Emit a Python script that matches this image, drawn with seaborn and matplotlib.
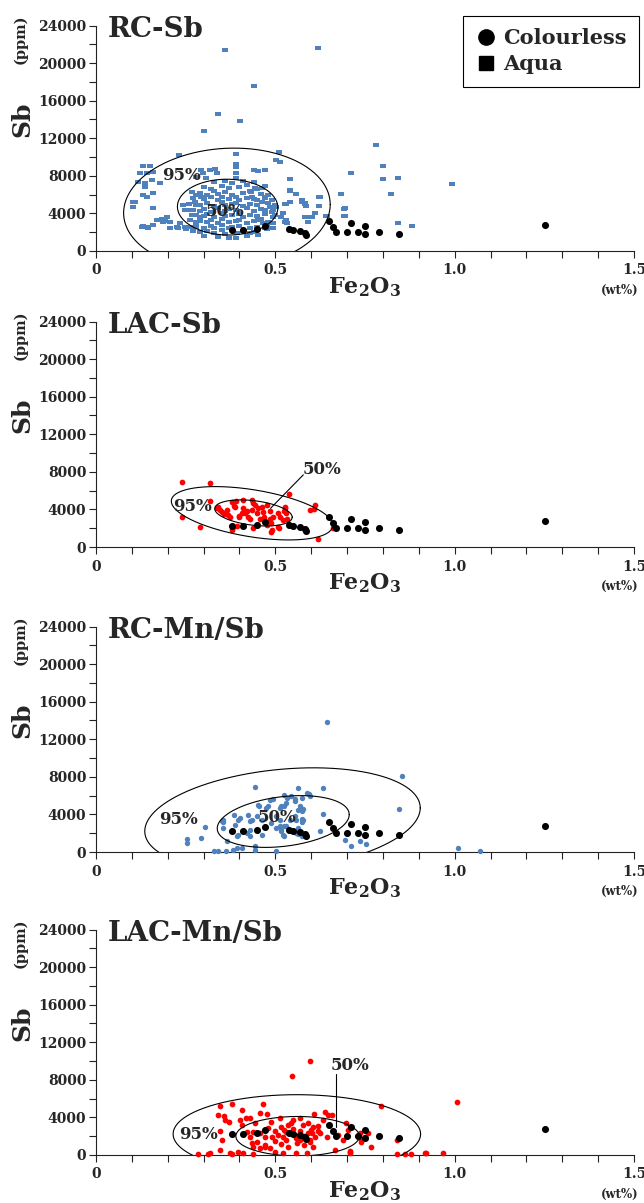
import numpy as np
import matplotlib
matplotlib.use("Agg")
import matplotlib.pyplot as plt
from matplotlib.path import Path
from matplotlib.lines import Line2D
from matplotlib.ticker import MultipleLocator, FixedLocator, FuncFormatter
import seaborn as sns

# ---------------------------------------------------------------- data
# Colourless glass (same reference set shown on every panel): Fe2O3 wt%, Sb ppm
colourless_fe = [0.380, 0.409, 0.450, 0.471, 0.538, 0.550, 0.568, 0.582, 0.585, 0.649,
                 0.661, 0.670, 0.700, 0.712, 0.731, 0.751, 0.751, 0.789, 0.845, 1.253]
colourless_sb = [2270, 2200, 2350, 2650, 2380, 2270, 2100, 1890, 1750, 3200,
                 2550, 1990, 2000, 2950, 2020, 2700, 1850, 2020, 1850, 2800]

# RC-Sb aqua glass
rc_sb_fe = [0.361, 0.619, 0.440, 0.341, 0.401, 0.301, 0.231, 0.390, 0.390, 0.390,
            0.511, 0.501, 0.513, 0.130, 0.150, 0.124, 0.141, 0.160, 0.118, 0.136,
            0.155, 0.178, 0.160, 0.294, 0.299, 0.318, 0.336, 0.331, 0.280, 0.308,
            0.130, 0.141, 0.109, 0.104, 0.160, 0.440, 0.452, 0.471, 0.390, 0.390,
            0.540, 0.443, 0.462, 0.540, 0.559, 0.682, 0.432, 0.436, 0.448, 0.471,
            0.462, 0.540, 0.527, 0.573, 0.582, 0.585, 0.622, 0.622, 0.485, 0.494,
            0.503, 0.522, 0.582, 0.594, 0.694, 0.694, 0.531, 0.533, 0.643, 0.494,
            0.494, 0.494, 0.452, 0.466, 0.476, 0.476, 0.429, 0.452, 0.392, 0.390,
            0.781, 0.711, 0.801, 0.801, 0.841, 0.822, 0.691, 0.691, 0.841, 0.880,
            0.992, 0.641, 0.267, 0.280, 0.294, 0.276, 0.290, 0.243, 0.248, 0.262,
            0.267, 0.262, 0.280, 0.290, 0.132, 0.146, 0.160, 0.169, 0.183, 0.192,
            0.206, 0.197, 0.234, 0.248, 0.262, 0.280, 0.229, 0.250, 0.270, 0.127,
            0.146, 0.174, 0.187, 0.206, 0.225, 0.160, 0.136, 0.104, 0.517, 0.528,
            0.531, 0.540, 0.573, 0.582, 0.601, 0.590, 0.610, 0.624]
rc_sb_sb = [21440, 21620, 17550, 14540, 13800, 12740, 10260, 10370, 9300, 8950,
            10540, 9660, 9480, 9020, 9020, 8250, 8250, 8420, 7360, 7190,
            7540, 7250, 6190, 8670, 8250, 8600, 8250, 8780, 7890, 7720,
            5940, 5760, 5230, 4700, 4530, 8670, 8490, 8600, 8250, 7820,
            7610, 6720, 6720, 6370, 6050, 6050, 6300, 5760, 5410, 5590,
            5230, 5230, 4990, 5230, 5130, 4780, 5700, 4780, 4640, 4350,
            4700, 4000, 3640, 3580, 4530, 3720, 3290, 2940, 3720, 3640,
            2940, 2410, 3290, 2940, 2650, 2300, 1880, 1700, 1940, 1350,
            11250, 8250, 9020, 7640, 7820, 6020, 4460, 3750, 3000, 2690,
            7150, 3750, 6300, 5940, 5760, 5230, 4880, 4880, 4350, 4350,
            3820, 3290, 3110, 3640, 2650, 2580, 2760, 3290, 3360, 3220,
            3110, 3640, 2940, 2580, 2580, 2940, 2400, 2300, 2100, 2580,
            2470, 3290, 3110, 2470, 2580, 6120, 6830, 5200, 3640, 3110,
            5050, 6480, 5410, 5050, 3640, 3100, 4000, 5760]

# RC-Sb aqua glass, dense central group
rc_sb_core_fe = [0.33, 0.36, 0.38, 0.41, 0.44,
                 0.30, 0.32, 0.35, 0.37, 0.40, 0.42, 0.45, 0.47,
                 0.29, 0.31, 0.33, 0.34, 0.36, 0.38, 0.41, 0.43, 0.46, 0.48,
                 0.27, 0.30, 0.32, 0.34, 0.35, 0.37, 0.39, 0.40, 0.42, 0.44, 0.47, 0.49,
                 0.26, 0.28, 0.31, 0.33, 0.35, 0.36, 0.38, 0.39, 0.41, 0.43, 0.45, 0.48, 0.50,
                 0.27, 0.29, 0.30, 0.32, 0.34, 0.36, 0.37, 0.39, 0.40, 0.42, 0.44, 0.46, 0.47, 0.49,
                 0.28, 0.30, 0.31, 0.33, 0.35, 0.36, 0.38, 0.40, 0.41, 0.43, 0.45, 0.47, 0.50,
                 0.29, 0.31, 0.32, 0.34, 0.35, 0.37, 0.39, 0.40, 0.42, 0.44, 0.46, 0.48,
                 0.28, 0.30, 0.32, 0.33, 0.35, 0.37, 0.38, 0.40, 0.43, 0.45, 0.47,
                 0.29, 0.31, 0.33, 0.35, 0.36, 0.41, 0.44,
                 0.30, 0.34, 0.37, 0.42]
rc_sb_core_sb = [7300, 7500, 7200, 7400, 7300,
                 6800, 6600, 6900, 6700, 6800, 7000, 6600, 6900,
                 6200, 6000, 6400, 6100, 6300, 6000, 6200, 6400, 6100, 6000,
                 5600, 5500, 5800, 5400, 5700, 5500, 5800, 5400, 5600, 5500, 5700, 5400,
                 5000, 4900, 5100, 4800, 5200, 4900, 5000, 5100, 4800, 5000, 4900, 5100, 4900,
                 4400, 4300, 4500, 4200, 4600, 4300, 4500, 4400, 4200, 4600, 4300, 4500, 4400, 4200,
                 3800, 3700, 3900, 3600, 4000, 3700, 3800, 3900, 3600, 3800, 3700, 3900, 3800,
                 3200, 3100, 3300, 3000, 3400, 3100, 3200, 3300, 3000, 3200, 3400, 3100,
                 2600, 2500, 2700, 2400, 2800, 2500, 2600, 2700, 2500, 2600, 2400,
                 2000, 2100, 1900, 2200, 1800, 2100, 2000,
                 1600, 1500, 1400, 1600]

# LAC-Sb
lac_sb_fe = [0.239, 0.319, 0.319, 0.239, 0.290, 0.341, 0.345, 0.350, 0.364, 0.369,
             0.373, 0.380, 0.392, 0.390, 0.384, 0.409, 0.415, 0.420, 0.424, 0.429,
             0.406, 0.399, 0.436, 0.438, 0.443, 0.448, 0.438, 0.462, 0.466, 0.469,
             0.457, 0.471, 0.485, 0.489, 0.492, 0.476, 0.508, 0.513, 0.520, 0.524,
             0.528, 0.510, 0.538, 0.596, 0.607, 0.610, 0.619, 0.661, 0.336, 0.378,
             0.387, 0.410, 0.434, 0.452, 0.476, 0.485, 0.494, 0.526, 0.531, 0.533,
             0.382, 0.489, 0.508, 0.356, 0.398]
lac_sb_sb = [6970, 6790, 4940, 3170, 2170, 4230, 3950, 3770, 3950, 3410,
             3170, 1810, 2240, 4910, 4370, 4130, 3590, 3870, 3230, 2950,
             3660, 3170, 5010, 4730, 4480, 3660, 1990, 4300, 3770, 3170,
             2950, 2700, 2950, 2530, 1810, 2350, 3590, 3170, 2880, 3870,
             4130, 1990, 5620, 3950, 4050, 4480, 820, 1990, 4190, 4830,
             4300, 5010, 3950, 4190, 4480, 3870, 3170, 4300, 3590, 2950,
             2170, 1630, 2170, 3550, 3350]

# RC-Mn/Sb
rc_mnsb_fe = [0.643, 0.854, 0.844, 0.443, 0.564, 0.633, 0.593, 0.525, 0.533, 0.554,
              0.554, 0.494, 0.485, 0.517, 0.513, 0.524, 0.454, 0.475, 0.568, 0.573,
              0.576, 0.633, 0.424, 0.434, 0.384, 0.396, 0.355, 0.355, 0.448, 0.462,
              0.503, 0.513, 0.554, 0.559, 0.573, 0.573, 0.513, 0.524, 0.517, 0.524,
              0.462, 0.392, 0.410, 0.429, 0.624, 0.564, 0.304, 0.294, 0.253, 0.253,
              0.364, 0.330, 0.341, 0.362, 0.383, 0.392, 0.406, 0.443, 0.443, 0.503,
              0.694, 0.712, 0.735, 0.754, 1.010, 1.070,
              0.545, 0.531, 0.573, 0.587, 0.596, 0.452, 0.480, 0.564, 0.578, 0.401,
              0.429, 0.350, 0.355, 0.387, 0.396, 0.420, 0.429, 0.489, 0.503, 0.517,
              0.531, 0.540, 0.564, 0.559, 0.573, 0.522]
rc_mnsb_sb = [13870, 8070, 4620, 6900, 6760, 6830, 6220, 6110, 5760, 5660,
              5400, 5660, 5510, 4870, 4700, 4940, 4940, 4700, 4870, 4410,
              4590, 4050, 3980, 3450, 3980, 3450, 3450, 3160, 3800, 3450,
              3800, 3450, 3800, 3450, 3520, 3160, 2730, 2730, 2200, 1740,
              1850, 1670, 2200, 2310, 2270, 1950, 2670, 1490, 1420, 960,
              1130, 140, 140, 140, 250, 430, 430, 670, 250, 140,
              1240, 670, 1210, 890, 450, 80,
              5930, 5230, 5760, 6290, 6010, 5050, 4870, 4510, 3450, 3630,
              3270, 3270, 2560, 2910, 1850, 2030, 1670, 3100, 2560, 2380,
              2730, 3450, 2560, 2030, 1670, 1850]

# LAC-Mn/Sb
lac_mnsb_fe = [0.596, 0.547, 1.006, 0.796, 0.347, 0.378, 0.466, 0.357, 0.370, 0.408,
               0.417, 0.429, 0.408, 0.345, 0.457, 0.489, 0.513, 0.438, 0.457, 0.471,
               0.435, 0.438, 0.457, 0.471, 0.517, 0.524, 0.536, 0.550, 0.568, 0.577,
               0.591, 0.605, 0.619, 0.633, 0.647, 0.508, 0.522, 0.531, 0.554, 0.559,
               0.568, 0.591, 0.596, 0.610, 0.624, 0.643, 0.499, 0.522, 0.559, 0.587,
               0.536, 0.605, 0.285, 0.313, 0.345, 0.378, 0.409, 0.438, 0.675, 0.689,
               0.709, 0.709, 0.740, 0.749, 0.768, 0.735, 0.758, 0.838, 0.838, 0.861,
               0.879, 0.921, 0.967,
               0.607, 0.638, 0.658, 0.698, 0.708, 0.703, 0.737, 0.666, 0.708, 0.916,
               0.601, 0.596,
               0.359, 0.401, 0.443, 0.478, 0.350, 0.318, 0.373, 0.396, 0.340,
               0.420, 0.429, 0.448, 0.471, 0.485,
               0.480, 0.500, 0.530, 0.550, 0.570, 0.580, 0.600, 0.620, 0.545, 0.560,
               0.580, 0.500, 0.490, 0.515]
lac_mnsb_sb = [10050, 8380, 5600, 5170, 5240, 5450, 5420, 4200, 3560, 4810,
               3920, 3920, 3210, 2570, 4460, 3560, 3920, 2490, 2320, 1960,
               1320, 890, 720, 890, 3030, 2670, 3210, 3740, 3920, 3210,
               3390, 3030, 3100, 3740, 4280, 2140, 1960, 1600, 2140, 1780,
               1600, 2320, 1600, 1960, 2320, 1960, 350, 180, 180, 250,
               890, 890, 110, 110, 530, 110, 250, 110, 2140, 1600,
               350, 180, 1420, 1960, 890, 2320, 2320, 1600, 110, 110,
               110, 250, 180,
               4390, 4530, 4280, 3390, 3030, 2670, 1780, 530, 460, 250,
               2320, 1420,
               3740, 3740, 3390, 4390, 1600, 180, 180, 350, 4300,
               2490, 1960, 1420, 1070, 720,
               2900, 2600, 2400, 2800, 2600, 2000, 2700, 2600, 3400, 1300,
               1100, 1500, 1900, 1200]

panel_titles = ["RC-Sb", "LAC-Sb", "RC-Mn/Sb", "LAC-Mn/Sb"]

# confidence ellipses: centre x, half-width x, centre y, half-height y, phase (deg)
ellipse_95 = [(0.365, 0.288, 4500, 6450, 86),
              (0.435, 0.225, 3590, 2840, 117),
              (0.520, 0.384, 3450, 5510, 77),
              (0.560, 0.345, 2230, 4190, 90)]
ellipse_50 = [(0.367, 0.140, 4670, 2970, 91),
              (0.439, 0.108, 3625, 1390, 109),
              (0.522, 0.184, 3245, 2755, 74.5),
              (0.562, 0.172, 2000, 2100, 90)]

# label anchors for "95%" and "50%"
label_95_pos = [(0.239, 8070), (0.269, 4300), (0.231, 3450), (0.286, 2140)]
label_50_pos = [(0.359, 4170), (0.629, 8210), (0.506, 3630), (0.707, 9520)]
# leader lines from the "50%" label to the inner ellipse (None = no leader)
leader_50 = [None, ((0.578, 7680), (0.487, 4130)), None, ((0.670, 8660), (0.670, 3030))]

x_tick_values = [0, 0.5, 1.0, 1.5]
x_tick_labels = ["0", "0.5", "1.0", "1.5"]
y_tick_values = [0, 4000, 8000, 12000, 16000, 20000, 24000]

# ---------------------------------------------------------------- style
sns.set_style("ticks")
plt.rcParams["font.family"] = ["DejaVu Serif"]
plt.rcParams["font.weight"] = "bold"
plt.rcParams["mathtext.fontset"] = "custom"
plt.rcParams["mathtext.rm"] = "DejaVu Serif:bold"
plt.rcParams["mathtext.it"] = "DejaVu Serif:bold"
plt.rcParams["mathtext.bf"] = "DejaVu Serif:bold"

AQUA = "#4F81BD"
RED = "#FF0000"
BLACK = "#000000"

# slightly flattened square marker for the RC-Sb aqua samples
rect_marker = Path([(-1.5, -1.0), (1.5, -1.0), (1.5, 1.0), (-1.5, 1.0), (-1.5, -1.0)],
                   [Path.MOVETO, Path.LINETO, Path.LINETO, Path.LINETO, Path.CLOSEPOLY])

series = [
    (rc_sb_fe + rc_sb_core_fe, rc_sb_sb + rc_sb_core_sb, AQUA, rect_marker, 20),
    (lac_sb_fe, lac_sb_sb, RED, "o", 17),
    (rc_mnsb_fe, rc_mnsb_sb, AQUA, "o", 15),
    (lac_mnsb_fe, lac_mnsb_sb, RED, "o", 17),
]

W, H = 644, 1203
fig = plt.figure(figsize=(W / 100, H / 100), dpi=100)
ax_left, ax_right = 96, 634
zero_rows = [251, 547, 852, 1155]
ax_h = 225.5


def draw_ellipse(ax, params):
    cx, rx, cy, ry, phase = params
    t = np.linspace(0, 2 * np.pi, 500)
    ax.plot(cx + rx * np.cos(t), cy + ry * np.cos(t - np.radians(phase)),
            color=BLACK, lw=0.8, zorder=4)


for i in range(4):
    ax = fig.add_axes([ax_left / W, 1 - zero_rows[i] / H, (ax_right - ax_left) / W, ax_h / H])
    fe, sb, col, mk, size = series[i]

    draw_ellipse(ax, ellipse_95[i])
    draw_ellipse(ax, ellipse_50[i])

    sns.scatterplot(x=fe, y=sb, ax=ax, color=col, marker=mk, s=size,
                    linewidth=0, legend=False, clip_on=False, zorder=3)
    sns.scatterplot(x=colourless_fe, y=colourless_sb, ax=ax, color=BLACK, marker="o",
                    s=26, linewidth=0, legend=False, clip_on=False, zorder=5)

    ax.set_xlim(0, 1.5)
    ax.set_ylim(0, 24000)
    ax.set_xlabel("")
    ax.set_ylabel("")
    sns.despine(ax=ax)
    for sp in ("left", "bottom"):
        ax.spines[sp].set_linewidth(0.8)
        ax.spines[sp].set_color("#222222")

    ax.xaxis.set_major_locator(FixedLocator(x_tick_values))
    ax.set_xticklabels(x_tick_labels)
    ax.xaxis.set_minor_locator(MultipleLocator(0.1))
    ax.yaxis.set_major_locator(FixedLocator(y_tick_values))
    ax.yaxis.set_major_formatter(FuncFormatter(lambda v, p: f"{int(v)}"))
    ax.yaxis.set_minor_locator(MultipleLocator(2000))
    ax.tick_params(axis="both", which="both", direction="out", length=5, width=0.8,
                   color="#222222")
    ax.tick_params(axis="x", which="major", labelsize=10, pad=4)
    ax.tick_params(axis="y", which="major", labelsize=10, pad=2)
    for lab in ax.get_xticklabels() + ax.get_yticklabels():
        lab.set_fontweight("bold")

    # panel title and axis captions
    ax.text(0.022, 0.951, panel_titles[i], transform=ax.transAxes, fontsize=20,
            fontweight="bold", ha="left", va="baseline")
    ax.text(-0.136, 0.584, "Sb", transform=ax.transAxes, rotation=90, fontsize=18,
            fontweight="bold", ha="center", va="center")
    ax.text(-0.141, 0.938, "(ppm)", transform=ax.transAxes, rotation=90, fontsize=10.5,
            fontweight="bold", ha="center", va="center")
    ax.text(0.5, -0.186, r"Fe$_2$O$_3$", transform=ax.transAxes, fontsize=16,
            fontweight="bold", ha="center", va="baseline")
    ax.text(0.974, -0.177, "(wt%)", transform=ax.transAxes, fontsize=8.5,
            fontweight="bold", ha="center", va="center")

    # ellipse labels
    x95, y95 = label_95_pos[i]
    x50, y50 = label_50_pos[i]
    ax.text(x95, y95, "95%", fontsize=12, fontweight="bold", ha="center", va="center", zorder=6)
    ax.text(x50, y50, "50%", fontsize=12, fontweight="bold", ha="center", va="center", zorder=6)
    if leader_50[i] is not None:
        (lx0, ly0), (lx1, ly1) = leader_50[i]
        ax.plot([lx0, lx1], [ly0, ly1], color=BLACK, lw=0.8, zorder=6)

    if i == 0:
        handles = [Line2D([], [], marker="o", color=BLACK, linestyle="none", markersize=11),
                   Line2D([], [], marker="s", color=BLACK, linestyle="none", markersize=10)]
        leg = ax.legend(handles, ["Colourless", "Aqua"], loc="upper right",
                        bbox_to_anchor=(1.009, 1.044), borderaxespad=0, frameon=True,
                        fancybox=False, framealpha=1, edgecolor=BLACK,
                        handlelength=1.0, handletextpad=0.3, labelspacing=0.3,
                        borderpad=0.6, prop={"weight": "bold", "size": 15})
        leg.get_frame().set_linewidth(0.8)

fig.savefig("out.png", dpi=100)
